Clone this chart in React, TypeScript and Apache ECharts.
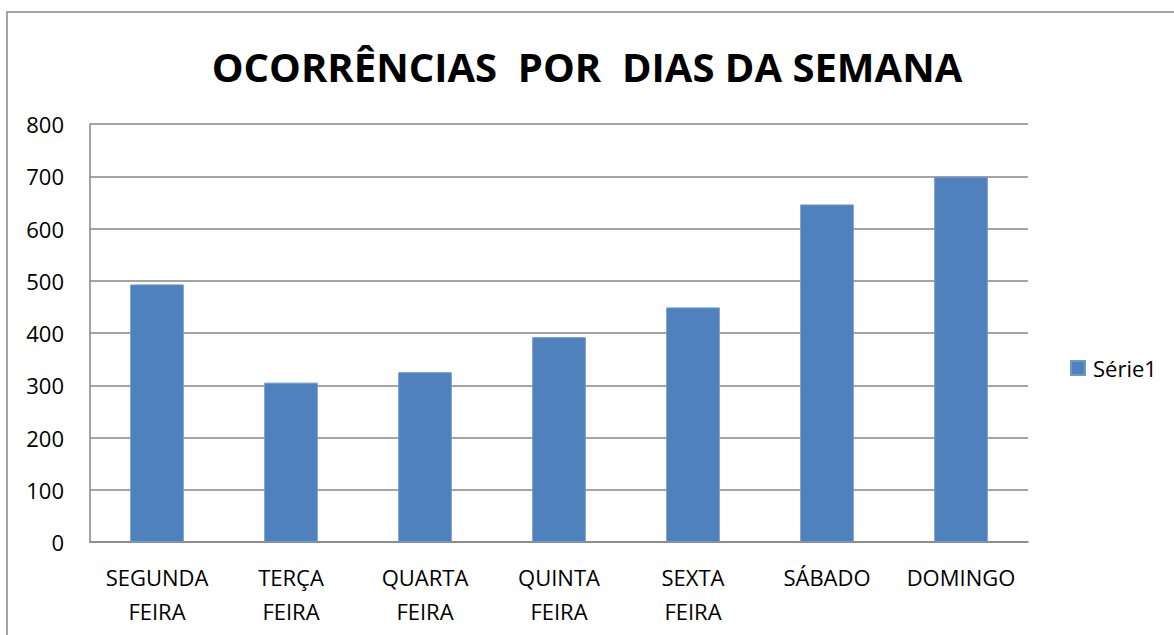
import React, { useEffect, useRef } from "react";
import * as echarts from "echarts";

const titleText = "OCORRÊNCIAS  POR  DIAS DA SEMANA";
const categories = [
  "SEGUNDA\nFEIRA",
  "TERÇA\nFEIRA",
  "QUARTA\nFEIRA",
  "QUINTA\nFEIRA",
  "SEXTA\nFEIRA",
  "SÁBADO",
  "DOMINGO",
];
const seriesName = "Série1";
const values = [493, 305, 325, 392, 449, 646, 699];

const FONT = "'Open Sans', 'Noto Sans', sans-serif";
const GRID_COLOR = "#868686";

export default function App() {
  const ref = useRef<HTMLDivElement>(null);
  useEffect(() => {
    if (!ref.current) return;
    const chart = echarts.init(ref.current, null, { renderer: "svg" });
    const titleSize = 40;
    chart.setOption({
      animation: false,
      backgroundColor: "#ffffff",
      textStyle: { fontFamily: FONT },
      title: {
        text: titleText,
        left: "center",
        top: 66 - titleSize / 2 - 5,
        padding: 0,
        textStyle: {
          fontFamily: FONT,
          fontWeight: "bold",
          fontSize: titleSize,
          color: "#000000",
          lineHeight: titleSize + 10,
        },
      },
      graphic: [
        {
          type: "rect",
          shape: { x: 7, y: 12, width: 1300, height: 800 },
          style: { fill: "none", stroke: GRID_COLOR, lineWidth: 1.5 },
          silent: true,
          z: -1,
        },
      ],
      legend: {
        data: [seriesName],
        left: 1070,
        top: 357,
        orient: "vertical",
        itemWidth: 14,
        itemHeight: 14,
        icon: "rect",
        padding: 0,
        textStyle: {
          fontFamily: FONT,
          fontSize: 22,
          color: "#000000",
          padding: [0, 0, 0, 3],
        },
      },
      grid: { left: 90, top: 124, right: 146, bottom: 93, containLabel: false },
      xAxis: {
        type: "category",
        data: categories,
        axisLine: { show: true, lineStyle: { color: GRID_COLOR, width: 1.5 } },
        axisTick: { show: false },
        axisLabel: {
          interval: 0,
          margin: 18,
          fontFamily: FONT,
          fontSize: 22,
          lineHeight: 34,
          color: "#000000",
        },
      },
      yAxis: {
        type: "value",
        min: 0,
        max: 800,
        interval: 100,
        axisLine: { show: true, lineStyle: { color: GRID_COLOR, width: 1.5 } },
        axisTick: { show: false },
        splitLine: { show: true, lineStyle: { color: GRID_COLOR, width: 1.5 } },
        axisLabel: {
          margin: 26,
          fontFamily: FONT,
          fontSize: 22,
          color: "#000000",
        },
      },
      series: [
        {
          name: seriesName,
          type: "bar",
          data: values,
          barWidth: "40%",
          itemStyle: { color: "#4F81BD", borderColor: "#6f98cc", borderWidth: 1 },
        },
      ],
    });
    return () => chart.dispose();
  }, []);
  return (
    <div
      ref={ref}
      style={{ position: "fixed", left: 0, top: 0, width: 1174, height: 635 }}
    />
  );
}
